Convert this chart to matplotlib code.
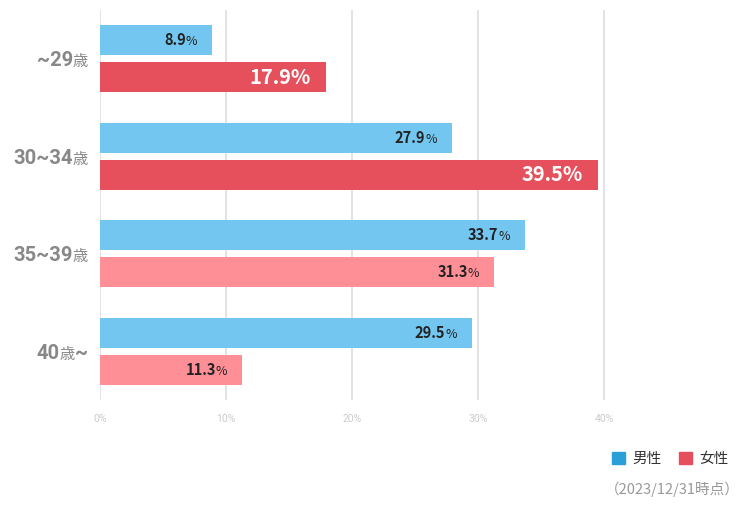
import matplotlib
matplotlib.use('Agg')
import matplotlib.pyplot as plt
import numpy as np
from matplotlib.patches import Patch
from matplotlib.offsetbox import TextArea, HPacker, AnnotationBbox

plt.rcParams['font.family'] = ['Noto Sans CJK JP', 'DejaVu Sans']

# data
age_nums = ['~29', '30~34', '35~39', '40']
age_suffix = ['歳', '歳', '歳', '歳~']
male = [8.9, 27.9, 33.7, 29.5]
female = [17.9, 39.5, 31.3, 11.3]
highlight = [True, True, False, False]   # female bars drawn in dark red
x_ticks = [0, 10, 20, 30, 40]

c_male = '#72c6ef'
c_female_hi = '#e5505c'
c_female = '#ff8f96'
c_label = '#888888'

fig = plt.figure(figsize=(7.48, 5.05), dpi=100)
ax = fig.add_axes([100/748, 105/505, 567/748, 390/505])

y = np.arange(len(male))
h = 0.31
off = 0.19

ax.barh(y - off, male, height=h, color=c_male, zorder=2)
fcols = [c_female_hi if hl else c_female for hl in highlight]
ax.barh(y + off, female, height=h, color=fcols, zorder=2)

ax.set_xlim(0, 45)
ax.set_ylim(len(male) - 0.5, -0.5)
ax.set_xticks(x_ticks)
ax.set_xticklabels([f'{t}%' for t in x_ticks], color='#cccccc', fontsize=7.5, family=['Roboto'])
ax.tick_params(axis='x', length=0, pad=10)
ax.set_yticks([])
for s in ax.spines.values():
    s.set_visible(False)
for t in x_ticks:
    ax.axvline(t, color='#e0e0e0', lw=1.3, zorder=1)


def value_label(v, yy, big):
    if big:
        parts = [TextArea(f'{v}%', textprops=dict(color='white', fontsize=14.5, fontweight='bold'))]
    else:
        parts = [TextArea(f'{v}', textprops=dict(color='#222222', fontsize=10.5, fontweight='bold')),
                 TextArea('%', textprops=dict(color='#222222', fontsize=9))]
    box = HPacker(children=parts, align='baseline', pad=0, sep=0)
    ab = AnnotationBbox(box, (v, yy), xybox=(-10.8, 0), boxcoords='offset points',
                        box_alignment=(1, 0.5), frameon=False, zorder=3)
    ax.add_artist(ab)


for i in range(len(male)):
    value_label(male[i], y[i] - off, False)
    value_label(female[i], y[i] + off, highlight[i])

    # category label, number part bigger than 歳
    num = TextArea(age_nums[i], textprops=dict(color=c_label, fontsize=14.5, fontweight='bold',
                                               family=['Roboto', 'Noto Sans CJK JP']))
    if age_suffix[i] == '歳~':
        parts = [num,
                 TextArea('歳', textprops=dict(color=c_label, fontsize=11)),
                 TextArea('~', textprops=dict(color=c_label, fontsize=14.5, fontweight='bold',
                                              family=['Roboto']))]
    else:
        parts = [num, TextArea(age_suffix[i], textprops=dict(color=c_label, fontsize=11))]
    box = HPacker(children=parts, align='baseline', pad=0, sep=0)
    ab = AnnotationBbox(box, (0, y[i]), xycoords=ax.get_yaxis_transform(), xybox=(-8.5, -1.5),
                        boxcoords='offset points', box_alignment=(1, 0.5), frameon=False)
    ax.add_artist(ab)

handles = [Patch(color='#2a9fd8'), Patch(color=c_female_hi)]
fig.legend(handles, ['男性', '女性'], ncol=2, loc='center right', bbox_to_anchor=(742/748, 1 - 459/505),
           frameon=False, handlelength=0.9, handleheight=0.9, handletextpad=0.5, columnspacing=1.2,
           prop=dict(size=10.5), labelcolor='#333333')

fig.text(740/748, 1 - 489/505, '（2023/12/31時点）', ha='right', va='center', fontsize=10.5, color='#999999')

fig.savefig('out.png', dpi=100)
